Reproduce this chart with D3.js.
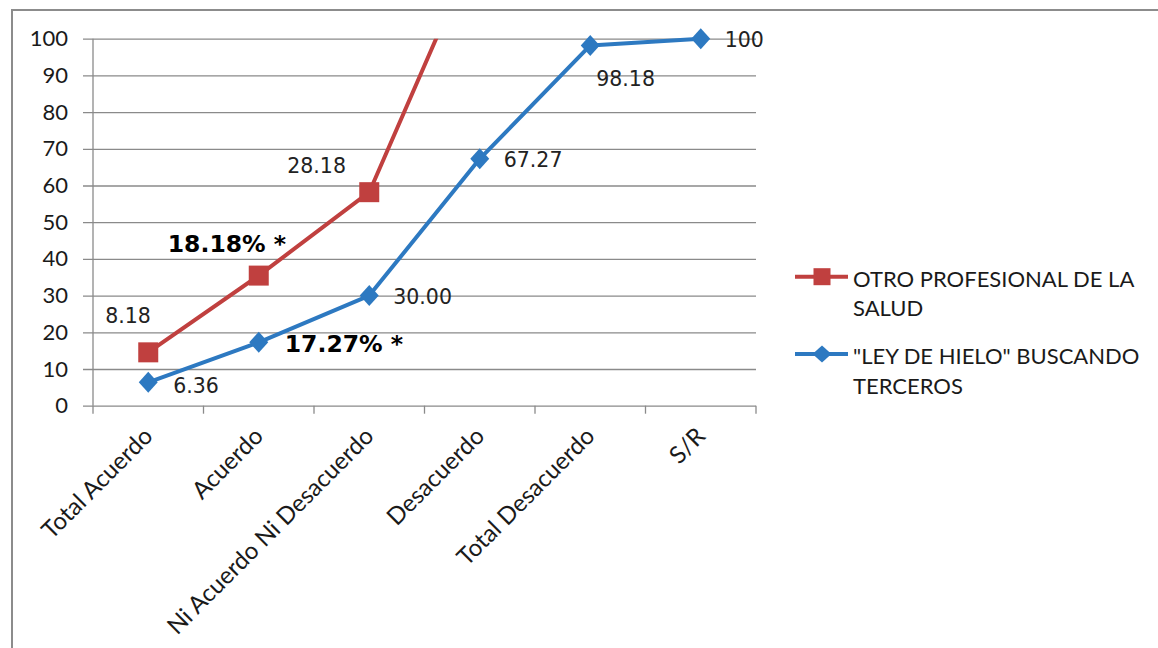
<!DOCTYPE html>
<html>
<head>
<meta charset="utf-8">
<script src="https://cdn.jsdelivr.net/npm/d3@7"></script>
<style>
  html, body { margin: 0; padding: 0; background: #fff; }
  svg { display: block; }
</style>
</head>
<body>
<svg id="chart" width="1158" height="648"></svg>
<script>
// Categories along the horizontal axis
const categories = ["Total Acuerdo", "Acuerdo", "Ni Acuerdo Ni Desacuerdo", "Desacuerdo", "Total Desacuerdo", "S/R"];
// Series values (the red series is stacked on top of the blue one)
const leyHielo = [6.36, 17.27, 30.00, 67.27, 98.18, 100];
const otroProfesional = [8.18, 18.18, 28.18, 60.00];
// Data label texts
const leyHieloLabels = ["6.36", "17.27% *", "30.00", "67.27", "98.18", "100"];
const otroProfesionalLabels = ["8.18", "18.18% *", "28.18"];
// Y axis ticks
const yTicks = [0, 10, 20, 30, 40, 50, 60, 70, 80, 90, 100];
// Legend texts
const legendRed = ["OTRO PROFESIONAL DE LA", "SALUD"];
const legendBlue = ["\"LEY DE HIELO\" BUSCANDO", "TERCEROS"];

const RED = "#C0403F";
const BLUE = "#2D79C1";
const GRID = "#8a8a8a";
const AXIS_FONT = "Lato, 'Liberation Sans', sans-serif";
const LABEL_FONT = "'DejaVu Sans', Verdana, sans-serif";

const svg = d3.select("#chart");

// Outer chart frame
svg.append("rect")
  .attr("x", 12).attr("y", 10)
  .attr("width", 1200).attr("height", 700)
  .attr("fill", "#fff")
  .attr("stroke", "#8c8c8c").attr("stroke-width", 2);

const plot = { left: 93, right: 756, top: 38.7, bottom: 405.7 };

const x = d3.scaleBand().domain(categories).range([plot.left, plot.right]).padding(0);
const cx = c => x(c) + x.bandwidth() / 2;
const y = d3.scaleLinear().domain([0, 100]).range([plot.bottom, plot.top]);

// Stacked series
const stack = d3.stack().keys(["blue", "red"]).value((d, k) => d[k] == null ? 0 : d[k]);
const rows = categories.map((c, i) => ({ cat: c, blue: leyHielo[i], red: otroProfesional[i] }));
const stacked = stack(rows);
const bluePts = stacked[0].map(s => ({ cat: s.data.cat, v: s[1] }));
const redPts = stacked[1].filter(s => s.data.red != null).map(s => ({ cat: s.data.cat, v: s[1] }));

// Clip for lines running past the top of the plot area
svg.append("clipPath").attr("id", "plotClip")
  .append("rect")
  .attr("x", plot.left).attr("y", plot.top)
  .attr("width", plot.right - plot.left).attr("height", plot.bottom - plot.top);

// Horizontal gridlines + y axis
const yAxis = d3.axisLeft(y).tickValues(yTicks).tickSize(-(plot.right - plot.left)).tickSizeOuter(0).tickPadding(25);
const gy = svg.append("g").attr("transform", `translate(${plot.left},0)`).call(yAxis);
gy.select(".domain").remove();
gy.selectAll(".tick line")
  .attr("x1", -10)
  .attr("stroke", GRID).attr("stroke-width", 1.3);
gy.selectAll(".tick text")
  .attr("font-family", AXIS_FONT).attr("font-size", 22).attr("fill", "#1a1a1a");

// Vertical axis line
svg.append("line")
  .attr("x1", plot.left).attr("x2", plot.left)
  .attr("y1", plot.top).attr("y2", plot.bottom)
  .attr("stroke", GRID).attr("stroke-width", 1.3);

// Category axis
const gx = svg.append("g").attr("transform", `translate(0,${plot.bottom})`)
  .call(d3.axisBottom(x).tickSize(0).tickPadding(0));
gx.select(".domain").remove();
gx.selectAll(".tick text").remove();
const edges = categories.map(c => x(c)).concat([plot.right]);
gx.selectAll("line.edge").data(edges).enter().append("line")
  .attr("class", "edge")
  .attr("x1", d => d).attr("x2", d => d)
  .attr("y1", 0).attr("y2", 8)
  .attr("stroke", GRID).attr("stroke-width", 1.3);
gx.selectAll("text.cat").data(categories).enter().append("text")
  .attr("class", "cat")
  .attr("text-anchor", "end")
  .attr("transform", d => `translate(${cx(d) + 6},${32}) rotate(-45)`)
  .attr("font-family", AXIS_FONT).attr("font-size", 24).attr("fill", "#1a1a1a")
  .text(d => d);

// Lines
const line = d3.line().x(d => cx(d.cat)).y(d => y(d.v));
svg.append("path").datum(redPts)
  .attr("d", line).attr("fill", "none")
  .attr("stroke", RED).attr("stroke-width", 4).attr("stroke-linejoin", "round")
  .attr("clip-path", "url(#plotClip)");
svg.append("path").datum(bluePts)
  .attr("d", line).attr("fill", "none")
  .attr("stroke", BLUE).attr("stroke-width", 4).attr("stroke-linejoin", "round");

// Markers
const diamond = (hw, hh) => `M0,${-hh}L${hw},0L0,${hh}L${-hw},0Z`;
svg.selectAll("path.blueMark").data(bluePts).enter().append("path")
  .attr("class", "blueMark")
  .attr("transform", d => `translate(${cx(d.cat)},${y(d.v)})`)
  .attr("d", diamond(9.5, 10.5)).attr("fill", BLUE);
svg.selectAll("rect.redMark").data(redPts.filter(d => d.v <= 100)).enter().append("rect")
  .attr("class", "redMark")
  .attr("x", d => cx(d.cat) - 10).attr("y", d => y(d.v) - 10)
  .attr("width", 20).attr("height", 20).attr("fill", RED);

// Data labels (offsets from each point to label start / baseline)
const blueOffsets = [[25, 11], [26, 10], [24, 8.5], [24, 8], [6, 41], [24, 8]];
const redOffsets = [[-43, -29], [-91, -24], [-82, -19]];
function drawLabels(pts, texts, offsets) {
  svg.append("g").selectAll("text").data(texts).enter().append("text")
    .attr("x", (t, i) => cx(pts[i].cat) + offsets[i][0])
    .attr("y", (t, i) => y(pts[i].v) + offsets[i][1])
    .attr("font-family", LABEL_FONT)
    .attr("font-size", t => t.includes("%") ? 23.5 : 20.5)
    .attr("font-weight", t => t.includes("%") ? "bold" : "normal")
    .attr("fill", t => t.includes("%") ? "#000" : "#222")
    .text(t => t);
}
drawLabels(bluePts, leyHieloLabels, blueOffsets);
drawLabels(redPts, otroProfesionalLabels, redOffsets);

// Legend
const legend = svg.append("g");
function legendItem(lineY, lines, color, marker) {
  legend.append("line")
    .attr("x1", 795).attr("x2", 848).attr("y1", lineY).attr("y2", lineY)
    .attr("stroke", color).attr("stroke-width", 4);
  if (marker === "square") {
    legend.append("rect").attr("x", 822 - 8.5).attr("y", lineY - 8.5)
      .attr("width", 17).attr("height", 17).attr("fill", color);
  } else {
    legend.append("path").attr("transform", `translate(822,${lineY})`)
      .attr("d", diamond(9.5, 8.5)).attr("fill", color);
  }
  legend.append("g").selectAll("text").data(lines).enter().append("text")
    .attr("x", 853).attr("y", (d, i) => lineY + 10 + i * 29.5)
    .attr("font-family", AXIS_FONT).attr("font-size", 22).attr("fill", "#1a1a1a")
    .text(d => d);
}
legendItem(276.7, legendRed, RED, "square");
legendItem(354, legendBlue, BLUE, "diamond");
</script>
</body>
</html>
